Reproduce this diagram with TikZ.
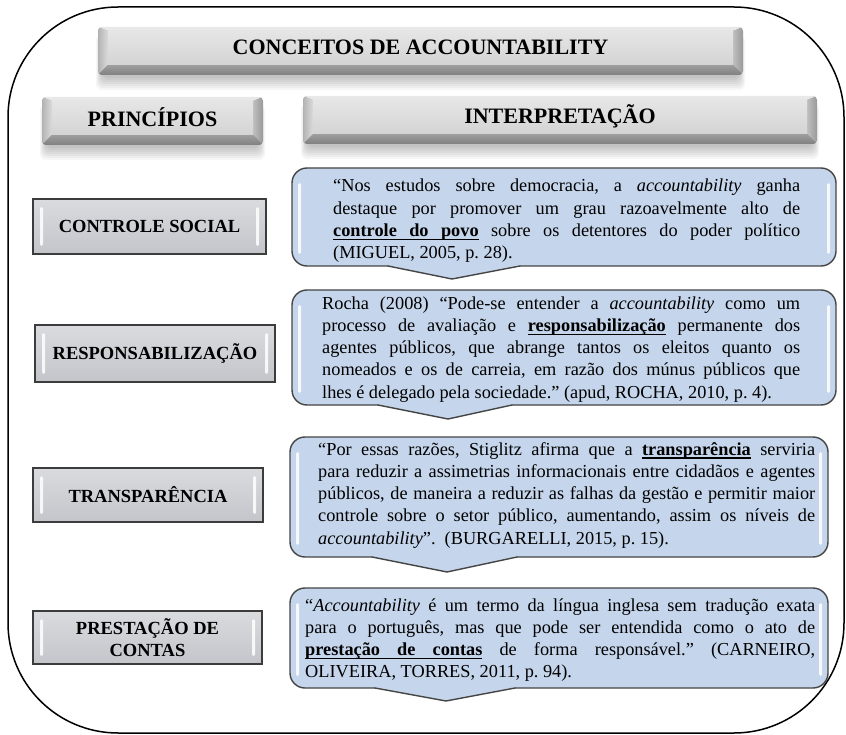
\documentclass[tikz,border=0pt]{standalone}
\usepackage{fontspec}
\setmainfont{Liberation Serif}[
  BoldFont={Liberation Serif Bold},
  ItalicFont={Liberation Serif Italic},
  BoldItalicFont={Liberation Serif Bold Italic}]

\definecolor{calloutfill}{HTML}{C5D5EB}
\definecolor{calloutline}{HTML}{454545}
\definecolor{printop}{HTML}{DADBDF}
\definecolor{prinbot}{HTML}{C3C5CA}
\definecolor{prinline}{HTML}{3C3C3C}

% one justified line, and a last (ragged) line
\newcommand{\jl}[1]{\hbox to\hsize{#1}}
\newcommand{\lastln}[1]{\hbox{#1}}
% underlined word, and an underlined stretchable space
\newcommand{\uw}[1]{\setbox0\hbox{#1}\rlap{\vrule width\wd0 height -2.4pt depth 3.6pt}\box0}
\newcommand{\uspace}{\leaders\hrule height -2.4pt depth 3.6pt\hskip\fontdimen2\font plus\fontdimen3\font minus\fontdimen4\font}

\tikzset{
  frame/.style={draw=black, line width=1.5pt, rounded corners=110pt},
  headtext/.style={inner sep=0pt, font=\fontsize{22}{26}\selectfont\bfseries},
  printext/.style={inner sep=0pt, align=center, font=\fontsize{18.5}{22}\selectfont\bfseries},
  quote/.style={inner sep=0pt, anchor=base west, font=\fontsize{18.3}{22.3}\selectfont\frenchspacing},
  calloutborder/.style={draw=calloutline, line width=1.4pt, line cap=round},
  gloss/.style={fill=white, opacity=0.85, rounded corners=1.5pt},
}

% bevelled grey header: name, x1, y1, x2, y2, text
\newcommand{\bevelbox}[6]{%
  \foreach \k in {0,...,6}{%
    \fill[black, opacity=0.035, rounded corners=6pt]
      ({#2+4-\k},{#3+8}) rectangle ({#4-4+\k},{#5+3+2*\k});
  }
  \begin{scope}
    \clip[rounded corners=4pt] (#2,#3) rectangle (#4,#5);
    \fill[black!40] (#2,#3) rectangle (#4,#5);
    \fill[black!9] (#2,#3) -- (#4,#3) -- ({#4-10},{#3+4}) -- ({#2+10},{#3+4}) -- cycle;
    \shade[left color=black!30, right color=black!14]
      (#2,#3) -- ({#2+10},{#3+4}) -- ({#2+10},{#5-10}) -- (#2,#5) -- cycle;
    \shade[left color=black!25, right color=black!40]
      (#4,#3) -- ({#4-10},{#3+4}) -- ({#4-10},{#5-10}) -- (#4,#5) -- cycle;
    \shade[top color=black!38, bottom color=black!50]
      (#2,#5) -- ({#2+10},{#5-10}) -- ({#4-10},{#5-10}) -- (#4,#5) -- cycle;
    \shade[top color=black!10, bottom color=black!17]
      ({#2+10},{#3+4}) rectangle ({#4-10},{#5-10});
  \end{scope}
  \node[headtext] (#1) at ({(#2+#4)/2},{(#3+#5-10)/2+1}) {#6};
}

% grey principle box: name, x1, y1, x2, y2, text
\newcommand{\prinbox}[6]{%
  \filldraw[draw=prinline, line width=1.3pt, top color=printop, bottom color=prinbot]
    (#2,#3) rectangle (#4,#5);
  \fill[gloss] ({#2+7},{#3+8}) rectangle ({#2+10},{#5-8});
  \fill[gloss] ({#4-10},{#3+8}) rectangle ({#4-7},{#5-8});
  \node[printext] (#1) at ({(#2+#4)/2},{(#3+#5)/2}) {#6};
}

% blue callout with a pointer under it: x1, y1, x2, y2, pointer left, tip x, tip y, pointer right
\newcommand{\callout}[8]{%
  \fill[calloutfill, rounded corners=15pt] (#1,#2) rectangle (#3,#4);
  \fill[calloutfill] (#5,{#4-2}) -- (#5,#4) -- (#6,#7) -- (#8,#4) -- (#8,{#4-2}) -- cycle;
  \fill[gloss] ({#1+6},{#2+15}) rectangle ({#1+9},{#4-12});
  \fill[gloss] ({#3-9},{#2+15}) rectangle ({#3-6},{#4-12});
  \draw[calloutborder, rounded corners=15pt]
    (#5,#4) -- (#1,#4) -- (#1,#2) -- (#3,#2) -- (#3,#4) -- (#8,#4);
  \draw[calloutborder, line join=miter] (#8,#4) -- (#6,#7) -- (#5,#4);
}

\begin{document}
\begin{tikzpicture}[x=1pt, y=-1pt]
  \useasboundingbox (0,0) rectangle (846,735);
  \fill[white] (0,0) rectangle (846,735);

  % outer frame
  \draw[frame] (8,7) rectangle (844,733);

  % headers
  \bevelbox{title}{98}{27}{743}{75}{CONCEITOS DE ACCOUNTABILITY}
  \bevelbox{princ}{42}{97}{263}{145}{PRINCÍPIOS}
  \bevelbox{interp}{303}{96}{817}{144}{INTERPRETAÇÃO}

  % principles
  \prinbox{p1}{33}{199}{266}{254}{CONTROLE SOCIAL}
  \prinbox{p2}{35}{325}{275}{382}{RESPONSABILIZAÇÃO}
  \prinbox{p3}{33}{468}{263}{522}{TRANSPARÊNCIA}
  \prinbox{p4}{33}{611}{262}{664}{PRESTAÇÃO DE\\CONTAS}

  % interpretations
  \callout{292}{168}{836}{266}{388}{452}{279}{520}
  \callout{292}{290}{836}{405}{378}{448}{419}{512}
  \callout{290}{437}{828}{557}{372}{447}{572}{517}
  \callout{290}{588}{828}{688}{375}{446}{701}{515}

  \node[quote] (q1) at (333,192) {\vtop{\hsize=467pt
    \jl{“Nos estudos sobre democracia, a \textit{accountability} ganha}
    \jl{destaque por promover um grau razoavelmente alto de}
    \jl{\textbf{\uw{controle}\uspace\uw{do}\uspace\uw{povo}} sobre os detentores do poder político}
    \lastln{(MIGUEL, 2005, p. 28).}}};

  \node[quote] (q2) at (322,309) {\vtop{\hsize=478pt
    \jl{Rocha (2008) “Pode-se entender a \textit{accountability} como um}
    \jl{processo de avaliação e \textbf{\uw{responsabilização}} permanente dos}
    \jl{agentes públicos, que abrange tantos os eleitos quanto os}
    \jl{nomeados e os de carreia, em razão dos múnus públicos que}
    \lastln{lhes é delegado pela sociedade.” (apud, ROCHA, 2010, p. 4).}}};

  \node[quote] (q3) at (318,455) {\vtop{\hsize=497pt
    \jl{“Por essas razões, Stiglitz afirma que a \textbf{\uw{transparência}\uspace}serviria}
    \jl{para reduzir a assimetrias informacionais entre cidadãos e agentes}
    \jl{públicos, de maneira a reduzir as falhas da gestão e permitir maior}
    \jl{controle sobre o setor público, aumentando, assim os níveis de}
    \lastln{\textit{accountability}”.\ \ (BURGARELLI, 2015, p. 15).}}};

  \node[quote] (q4) at (305,611) {\vtop{\hsize=510pt
    \jl{“\textit{Accountability} é um termo da língua inglesa sem tradução exata}
    \jl{para o português, mas que pode ser entendida como o ato de}
    \jl{\textbf{\uw{prestação}\uspace\uw{de}\uspace\uw{contas}} de forma responsável.” (CARNEIRO,}
    \lastln{OLIVEIRA, TORRES, 2011, p. 94).}}};
\end{tikzpicture}
\end{document}
